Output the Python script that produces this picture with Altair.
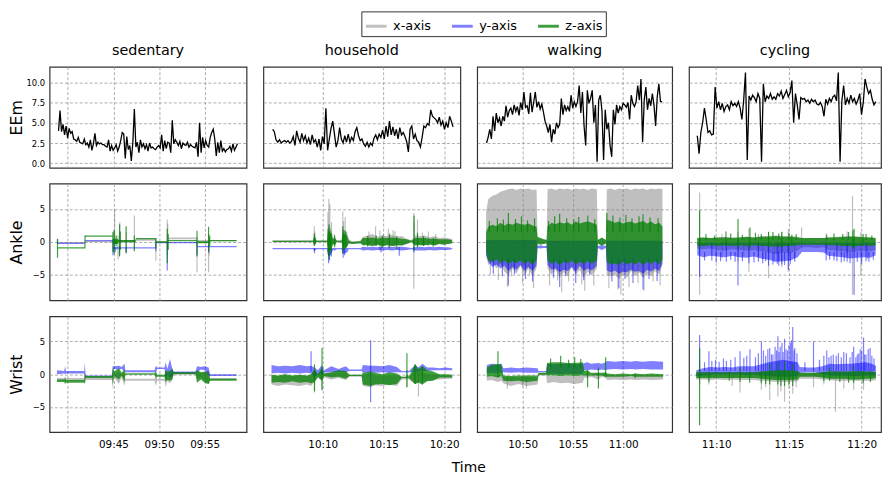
import altair as alt
import numpy as np
import pandas as pd

# ---------------------------------------------------------------- layout data
ACTIVITIES = ["sedentary", "household", "walking", "cycling"]
ROW_TITLES = ["EEm", "Ankle", "Wrist"]
AXES = ["x-axis", "y-axis", "z-axis"]
LEGEND_COLORS = ["#c0c0c0", "#8080ff", "#40a040"]
FILL_COLORS = ["#808080", "#0000ff", "#008000"]
FILL_OPACITY = [0.5, 0.5, 0.75]

# time windows in minutes since midnight
X_DOMAINS = [[578.0, 599.59], [605.11, 621.33], [645.47, 664.88], [668.13, 681.33]]
X_TICKS = [[580, 585, 590, 595], [610, 615, 620], [650, 655, 660], [670, 675, 680]]
X_UNLABELLED = [580]
SENSOR_T0 = [578.0, 605.1, 645.58, 668.1]
EEM_SPAN = [[578.98, 598.6], [605.87, 620.73], [646.4, 663.88], [668.7, 680.97]]

EEM_Y_DOMAIN = [-0.55, 11.9]
EEM_Y_TICKS = [0, 2.5, 5, 7.5, 10]
ACC_Y_DOMAIN = [-8.85, 8.85]
ACC_Y_TICKS = [-5, 0, 5]

COL_WIDTHS = [199, 199, 197, 194]
ROW_HEIGHTS = [102, 118, 117]

# ---------------------------------------------------------------- EEm series
EEM_SEDENTARY = [4.0, 6.5, 3.9, 4.8, 3.5, 4.6, 3.1, 4.3, 3.7, 3.9, 3.0, 2.9, 2.7, 3.2, 2.6, 2.5, 2.4, 3.0, 2.3, 2.5,
                 2.0, 2.9, 1.6, 2.4, 3.7, 2.2, 2.6, 2.4, 2.5, 2.3, 2.3, 2.1, 2.0, 2.9, 1.5, 2.2, 1.6, 1.9, 2.3, 1.5,
                 2.0, 2.8, 3.8, 3.6, 0.6, 3.3, 1.7, 2.2, 0.3, 2.6, 6.7, 2.0, 2.6, 1.3, 2.9, 2.0, 2.4, 1.8, 2.3, 1.5,
                 2.5, 1.9, 2.0, 1.8, 1.7, 2.0, 2.2, 1.9, 3.5, 1.5, 2.8, 1.8, 2.6, 2.5, 1.3, 5.3, 2.4, 2.9, 2.6, 2.2,
                 2.7, 1.8, 2.5, 2.3, 2.2, 2.6, 2.0, 2.3, 2.1, 2.0, 1.9, 2.6, 0.8, 5.0, 1.3, 3.2, 1.9, 2.8, 2.2, 2.0,
                 3.2, 3.8, 4.2, 3.0, 0.9, 2.6, 1.3, 2.8, 1.5, 1.8, 1.4, 1.7, 1.8, 2.1, 1.5, 2.4, 1.6, 2.0, 2.4]
EEM_HOUSEHOLD = [4.2, 3.9, 2.9, 2.6, 2.9, 2.5, 2.7, 2.8, 2.6, 2.8, 2.5, 2.7, 3.3, 2.2, 4.0, 3.1, 2.6, 3.7, 2.8, 3.4,
                 2.5, 3.1, 2.3, 3.5, 2.6, 2.9, 2.0, 3.0, 1.6, 3.3, 2.4, 6.8, 1.6, 3.0, 4.3, 5.2, 3.6, 2.0, 2.8, 4.4,
                 3.0, 2.5, 3.4, 2.6, 3.6, 2.6, 3.2, 2.8, 3.9, 4.4, 3.4, 2.8, 3.0, 2.4, 2.1, 2.6, 2.0, 2.5, 2.2, 3.1,
                 3.5, 2.9, 3.6, 3.2, 4.1, 3.0, 4.6, 3.3, 5.2, 3.5, 4.5, 3.4, 4.2, 3.0, 4.4, 3.5, 3.8, 3.3, 2.7, 1.4,
                 4.2, 4.6, 3.0, 3.6, 2.8, 2.6, 2.0, 3.2, 4.6, 4.4, 4.9, 4.7, 6.6, 5.8, 5.6, 5.4, 5.0, 5.7, 4.7, 5.2,
                 4.2, 5.0, 4.4, 5.8, 5.2, 4.5]
EEM_WALKING = [2.5, 3.2, 4.2, 3.0, 5.8, 4.0, 6.2, 5.0, 5.6, 4.6, 5.8, 5.2, 7.1, 5.7, 6.5, 6.8, 6.0, 7.2, 6.4, 7.0,
               5.9, 7.5, 6.6, 8.8, 6.9, 7.1, 6.1, 8.7, 6.3, 7.5, 8.8, 6.9, 7.6, 6.7, 7.3, 6.3, 5.2, 4.6, 3.8, 4.8,
               2.6, 4.2, 3.6, 5.0, 4.4, 4.8, 8.0, 6.0, 7.2, 6.5, 7.0, 6.4, 8.4, 6.8, 7.6, 7.0, 7.6, 9.6, 6.2, 8.8,
               4.6, 2.2, 9.0, 7.4, 8.0, 9.0, 5.0, 7.2, 0.2, 7.8, 8.4, 6.5, 0.4, 6.6, 4.2, 5.0, 2.2, 0.8, 6.6, 4.8,
               7.2, 6.2, 7.0, 6.6, 7.4, 7.2, 6.9, 7.5, 5.4, 8.4, 7.4, 7.0, 7.6, 9.6, 7.8, 10.4, 2.6, 7.8, 9.4, 6.6,
               8.0, 7.1, 8.6, 7.2, 4.6, 8.2, 9.8, 7.6, 7.6]
EEM_CYCLING = [3.4, 1.2, 3.8, 5.0, 6.8, 5.4, 3.8, 4.0, 3.5, 3.6, 9.4, 6.8, 7.6, 6.6, 7.4, 6.4, 7.0, 7.2, 6.6, 7.6,
               7.1, 7.4, 7.0, 7.6, 6.8, 5.4, 7.8, 11.2, 0.4, 8.3, 7.8, 8.4, 8.1, 7.6, 8.6, 8.0, 0.2, 9.8, 7.6, 8.3,
               8.0, 8.6, 7.9, 8.2, 7.9, 8.6, 8.3, 8.9, 8.0, 8.5, 9.0, 8.2, 8.7, 10.2, 5.0, 8.6, 7.2, 5.4, 8.1, 7.9,
               8.0, 7.6, 7.8, 7.4, 7.9, 7.6, 7.8, 7.3, 7.2, 7.5, 7.0, 5.8, 7.9, 7.3, 8.0, 7.6, 8.2, 8.4, 7.7, 11.2,
               0.2, 7.7, 9.6, 7.2, 8.0, 7.4, 8.4, 7.6, 8.0, 7.3, 7.8, 8.6, 6.0, 7.5, 10.4, 9.4, 8.6, 9.0, 7.9, 7.2,
               7.6]
EEM_SERIES = [EEM_SEDENTARY, EEM_HOUSEHOLD, EEM_WALKING, EEM_CYCLING]

# ---------------------------------------------------------------- accelerometer: noise bands (minutes from panel start, g)
ANKLE_SEDENTARY = dict(
    t=[0.87, 3.86, 3.88, 6.92, 6.95, 7.5, 7.55, 9.4, 9.47, 11.62, 11.7, 12.88, 12.95, 16.12, 16.2, 17.42, 17.5, 20.5],
    x_lo=[-0.2, -0.2, 0.0, 0.0, -0.3, -0.3, -0.1, -0.1, 0.2, 0.2, -0.1, -0.1, 0.4, 0.4, -0.1, -0.1, 0.1, 0.1],
    x_hi=[0.0, 0.0, 0.2, 0.2, 0.3, 0.3, 0.3, 0.3, 0.5, 0.5, 0.1, 0.1, 0.7, 0.7, 0.3, 0.3, 0.3, 0.3],
    y_lo=[-0.3, -0.3, 0.1, 0.1, -1.1, -1.1, -1.0, -1.0, -1.0, -1.0, -0.2, -0.2, -0.2, -0.2, -0.8, -0.8, -0.8, -0.8],
    y_hi=[-0.1, -0.1, 0.3, 0.3, -0.7, -0.7, -0.8, -0.8, -0.8, -0.8, 0.0, 0.0, 0.0, 0.0, -0.6, -0.6, -0.6, -0.6],
    z_lo=[-1.0, -1.0, 0.8, 0.8, -0.3, -0.3, 0.0, 0.0, 0.4, 0.4, -0.1, -0.1, 0.1, 0.1, -0.2, -0.2, 0.1, 0.1],
    z_hi=[-0.8, -0.8, 1.0, 1.0, 0.5, 0.5, 0.3, 0.3, 0.6, 0.6, 0.1, 0.1, 0.3, 0.3, 0.1, 0.1, 0.3, 0.3],
)
ANKLE_HOUSEHOLD = dict(
    t=[0.77, 4.1, 4.2, 4.4, 5.25, 5.35, 5.6, 5.75, 5.9, 6.05, 6.45, 6.55, 6.9, 7.05, 7.3, 8.0, 8.2, 8.6, 9.0, 9.4,
       9.8, 10.2, 10.6, 11.0, 11.4, 11.8, 12.2, 12.5, 12.9, 13.3, 13.7, 14.1, 14.5, 14.9, 15.2, 15.56],
    x_lo=[-0.05, -0.05, -0.4, -0.05, -0.05, -0.8, -0.6, -0.3, -0.5, -0.05, -0.05, -0.8, -0.6, -0.2, -0.3, -0.2, -0.5,
          -0.4, -0.6, -0.4, -0.7, -0.4, -0.6, -0.5, -0.6, -0.3, -0.05, -0.5, -0.4, -0.5, -0.3, -0.5, -0.3, -0.4, -0.3,
          -0.2],
    x_hi=[0.25, 0.25, 1.0, 0.25, 0.25, 2.5, 2.0, 0.6, 0.8, 0.25, 0.25, 2.0, 1.5, 0.4, 0.1, 0.2, 0.8, 1.0, 1.2, 0.8,
          1.0, 0.9, 1.1, 0.8, 0.9, 0.5, 0.25, 1.0, 0.9, 1.0, 0.7, 0.9, 0.6, 0.7, 0.6, 0.4],
    y_lo=[-1.1, -1.1, -1.4, -1.1, -1.1, -2.2, -1.8, -1.2, -1.3, -1.1, -1.1, -1.8, -1.6, -1.1, -1.1, -1.1, -1.3, -1.2,
          -1.3, -1.2, -1.3, -1.2, -1.3, -1.2, -1.3, -1.2, -1.1, -1.3, -1.3, -1.3, -1.2, -1.3, -1.2, -1.2, -1.2, -1.1],
    y_hi=[-0.9, -0.9, -0.9, -0.9, -0.9, -0.9, -0.9, -0.9, -0.9, -0.9, -0.9, -0.9, -0.9, -0.9, -0.9, -0.9, -0.7, -0.8,
          -0.7, -0.8, -0.7, -0.8, -0.7, -0.8, -0.7, -0.8, -0.9, -0.8, -0.7, -0.8, -0.7, -0.8, -0.7, -0.8, -0.8, -0.9],
    z_lo=[0.0, 0.0, -0.4, 0.0, 0.0, -1.5, -1.2, -0.3, -0.5, 0.0, 0.0, -1.0, -0.8, -0.2, -0.3, -0.2, -0.5, -0.5, -0.6,
          -0.4, -0.6, -0.5, -0.6, -0.5, -0.5, -0.3, 0.0, -0.5, -0.5, -0.5, -0.4, -0.5, -0.3, -0.4, -0.3, -0.2],
    z_hi=[0.2, 0.2, 0.8, 0.2, 0.2, 1.6, 1.2, 0.4, 0.6, 0.2, 0.2, 1.4, 1.0, 0.2, 0.0, 0.1, 0.6, 0.6, 0.7, 0.5, 0.7,
          0.6, 0.7, 0.6, 0.5, 0.4, 0.2, 0.6, 0.6, 0.6, 0.5, 0.5, 0.4, 0.4, 0.4, 0.3],
)
ANKLE_WALKING = dict(
    t=[0.78, 1.0, 1.4, 1.8, 2.2, 2.6, 3.0, 3.4, 3.8, 4.2, 4.6, 5.0, 5.4, 5.8, 5.9, 6.2, 6.5, 6.8, 6.9, 7.3, 7.7, 8.1,
       8.5, 8.9, 9.3, 9.7, 10.1, 10.5, 10.9, 11.3, 11.8, 11.9, 12.3, 12.7, 12.8, 13.2, 13.6, 14.0, 14.4, 14.8, 15.2,
       15.6, 16.0, 16.4, 16.8, 17.2, 17.6, 18.0, 18.33],
    x_lo=[-2.0, -3.5, -3.0, -4.0, -3.2, -4.5, -5.0, -4.0, -4.8, -3.6, -5.0, -4.0, -5.2, -4.0, -0.4, -0.3, -0.2, -0.3,
          -4.0, -5.0, -4.2, -5.4, -4.6, -5.2, -3.8, -5.0, -4.2, -5.4, -4.5, -5.0, -4.0, -0.3, -0.5, -0.3, -5.0, -5.2,
          -5.0, -5.6, -4.8, -5.4, -4.4, -5.2, -4.6, -5.5, -4.8, -5.2, -4.4, -5.0, -3.5],
    x_hi=[4.5, 6.5, 7.0, 7.2, 7.6, 7.8, 8.0, 8.1, 7.9, 8.1, 8.0, 8.1, 7.9, 8.0, 0.4, 0.5, 0.4, 0.3, 8.0, 8.1, 7.9, 8.1,
          8.0, 8.1, 7.9, 8.1, 8.0, 8.1, 7.9, 8.1, 8.0, 0.3, 0.6, 0.3, 8.0, 8.1, 7.9, 8.1, 8.0, 8.1, 7.9, 8.1, 8.0, 8.1,
          7.9, 8.1, 8.0, 8.1, 8.0],
    y_lo=[-2.0, -3.0, -3.8, -3.4, -4.0, -3.6, -4.4, -3.8, -4.2, -3.5, -4.3, -3.8, -4.4, -3.6, -0.9, -1.0, -0.9, -0.9,
          -3.5, -4.2, -4.0, -4.6, -4.2, -4.4, -3.8, -4.5, -3.6, -4.4, -4.0, -4.3, -3.6, -0.9, -1.2, -0.9, -4.3, -4.6,
          -4.3, -4.8, -4.5, -4.6, -4.2, -4.5, -4.4, -4.8, -4.2, -4.5, -4.0, -4.4, -3.2],
    y_hi=[0.3, 0.3, 0.3, 0.3, 0.3, 0.3, 0.3, 0.3, 0.3, 0.3, 0.3, 0.3, 0.3, 0.3, -0.6, -0.5, -0.6, -0.6, 0.2, 0.2, 0.2,
          0.2, 0.2, 0.2, 0.2, 0.2, 0.2, 0.2, 0.2, 0.2, 0.2, -0.6, -0.5, -0.6, 0.2, 0.2, 0.2, 0.2, 0.2, 0.2, 0.2, 0.2,
          0.2, 0.2, 0.2, 0.2, 0.2, 0.2, 0.2],
    z_lo=[-1.5, -2.8, -3.0, -2.6, -3.2, -2.8, -3.3, -2.9, -3.2, -2.8, -3.3, -2.9, -3.4, -2.8, -0.2, -0.4, -0.3, -0.2,
          -2.8, -3.3, -3.0, -3.5, -3.0, -3.2, -2.8, -3.4, -3.0, -3.3, -2.9, -3.3, -2.8, -0.2, -0.6, -0.2, -3.0, -3.4,
          -3.2, -3.5, -3.0, -3.4, -3.1, -3.4, -3.0, -3.5, -3.0, -3.3, -2.9, -3.4, -2.6],
    z_hi=[1.5, 2.3, 2.6, 2.4, 2.9, 2.5, 2.8, 2.6, 2.9, 2.7, 2.6, 2.8, 2.5, 2.3, 0.8, 0.6, 0.4, 0.3, 2.4, 2.9, 2.7, 3.0,
          2.8, 3.0, 2.6, 3.1, 2.8, 3.0, 3.1, 2.9, 2.6, 0.3, 0.7, 0.3, 3.4, 3.2, 2.9, 3.1, 2.8, 3.0, 3.1, 2.8, 3.0, 3.2,
          2.8, 3.1, 2.7, 2.9, 2.4],
)
ANKLE_CYCLING = dict(
    t=[0.6, 1.0, 1.5, 2.0, 2.5, 3.0, 3.5, 4.0, 4.5, 5.0, 5.5, 6.0, 6.5, 7.0, 7.5, 7.8, 8.3, 8.8, 9.3, 9.6, 10.1,
       10.6, 11.1, 11.6, 12.1, 12.5, 12.86],
    x_lo=[-1.0, -1.1, -1.0, -1.2, -1.3, -1.1, -1.2, -1.3, -1.2, -1.4, -1.6, -1.8, -1.6, -1.7, -1.3, -0.8, -0.8, -0.9,
          -0.8, -1.2, -1.3, -1.4, -1.5, -1.4, -1.3, -1.4, -1.2],
    x_hi=[0.6, 0.7, 0.6, 0.7, 0.8, 0.7, 0.7, 0.8, 0.7, 0.9, 0.9, 1.0, 0.9, 0.9, 0.8, 0.6, 0.6, 0.6, 0.6, 0.7, 0.8,
          0.8, 0.9, 0.8, 0.8, 0.7, 0.6],
    y_lo=[-2.0, -2.3, -2.1, -2.2, -2.3, -2.1, -2.3, -2.4, -2.2, -2.5, -2.7, -3.0, -2.9, -2.8, -2.3, -1.5, -1.5, -1.5,
          -1.6, -2.1, -2.2, -2.3, -2.5, -2.4, -2.3, -2.4, -2.0],
    y_hi=[-0.1, -0.2, -0.1, -0.2, -0.1, -0.2, -0.1, -0.2, -0.1, -0.2, -0.1, -0.2, -0.1, -0.2, -0.1, -0.2, -0.1, -0.2,
          -0.1, -0.2, -0.1, -0.2, -0.1, -0.2, -0.1, -0.2, -0.1],
    z_lo=[-0.5, -0.6, -0.5, -0.6, -0.5, -0.6, -0.5, -0.6, -0.5, -0.6, -0.6, -0.7, -0.6, -0.6, -0.5, -0.4, -0.4, -0.4,
          -0.4, -0.5, -0.5, -0.6, -0.6, -0.6, -0.5, -0.6, -0.5],
    z_hi=[0.6, 0.7, 0.6, 0.7, 0.7, 0.6, 0.7, 0.8, 0.7, 0.8, 0.8, 0.9, 0.8, 0.8, 0.7, 0.6, 0.6, 0.6, 0.6, 0.7, 0.7,
          0.8, 0.8, 0.8, 0.7, 0.7, 0.6],
)
WRIST_SEDENTARY = dict(
    t=[0.81, 1.6, 1.7, 1.8, 3.8, 3.87, 3.95, 6.85, 6.94, 7.05, 7.6, 7.9, 8.21, 8.3, 11.5, 11.65, 11.8, 12.6, 12.73,
       12.9, 13.2, 13.45, 13.6, 16.0, 16.16, 16.6, 17.0, 17.43, 17.6, 20.5],
    x_lo=[-1.0, -1.0, -1.2, -1.0, -1.0, -1.4, -0.9, -0.9, -2.5, -0.5, -1.5, -0.5, -1.8, -1.0, -1.0, -1.8, -1.0, -1.0,
          -2.0, -1.0, -1.4, -0.8, 0.0, 0.0, -0.8, -0.5, -1.0, -1.6, -0.9, -0.9],
    x_hi=[-0.6, -0.6, -0.4, -0.6, -0.6, 0.2, -0.5, -0.5, 0.8, -0.2, 0.5, -0.2, 0.4, -0.7, -0.7, -0.2, -0.7, -0.7, 0.4,
          -0.4, -0.3, 0.3, 0.3, 0.3, 0.4, 0.2, 0.3, 0.6, -0.6, -0.6],
    y_lo=[0.0, 0.1, 0.0, 0.1, 0.1, -0.6, -0.4, -0.4, -0.4, 0.8, 0.7, 0.8, 0.5, 0.3, 0.3, 0.2, 0.8, 0.8, -0.8, -0.2,
          -0.5, -0.4, 0.1, 0.1, 0.3, 0.7, 0.6, -0.2, -0.3, -0.3],
    y_hi=[0.6, 0.5, 1.2, 0.5, 0.5, 1.8, -0.2, -0.2, 1.3, 1.2, 1.3, 1.1, 1.6, 0.6, 0.6, 1.3, 1.0, 1.0, 1.8, 0.8, 2.3,
          0.8, 0.4, 0.4, 1.2, 1.1, 1.2, 1.0, 0.0, 0.0],
    z_lo=[-1.2, -1.2, -1.5, -1.3, -1.3, -1.5, -0.6, -0.6, -1.6, -0.3, -0.8, -0.2, -1.2, -0.1, -0.1, -0.6, -0.4, -0.4,
          -1.2, -0.9, -1.0, -0.8, 0.0, 0.0, -1.3, -0.8, -1.3, -1.5, -1.0, -1.0],
    z_hi=[-0.8, -0.8, -0.6, -0.9, -0.9, 0.2, -0.3, -0.3, 1.2, 0.4, 0.9, 0.2, 0.8, 0.15, 0.15, 0.4, -0.1, -0.1, 0.6,
          0.4, 0.5, 0.9, 0.3, 0.3, 0.6, 0.3, 0.4, 0.2, -0.7, -0.7],
)
WRIST_HOUSEHOLD = dict(
    t=[0.68, 1.2, 1.8, 2.4, 3.0, 3.6, 3.94, 4.22, 4.5, 4.84, 5.0, 5.6, 6.2, 6.8, 7.1, 8.1, 8.2, 8.84, 9.2, 9.8, 10.4,
       11.0, 11.4, 11.75, 11.83, 12.0, 12.5, 12.78, 13.1, 13.5, 14.0, 14.5, 15.0, 15.56],
    x_lo=[-1.6, -1.8, -1.6, -1.7, -1.8, -1.6, -1.8, -1.2, -0.6, -1.0, -0.5, -0.8, -0.6, -0.9, -0.4, -0.4, -1.8, -2.0,
          -1.7, -1.8, -1.6, -1.8, -0.8, -0.8, -0.8, -0.8, -1.5, -1.2, -1.2, -1.0, -0.8, -0.8, -0.7, -0.7],
    x_hi=[-0.2, -0.3, -0.2, -0.3, -0.2, -0.3, -0.2, 0.5, 0.0, 0.5, 0.1, 0.2, 0.2, 0.3, -0.1, -0.1, -0.2, 0.3, -0.2,
          -0.3, -0.2, -0.2, -0.4, -0.4, -0.4, -0.4, 0.5, 0.4, 0.3, 0.0, -0.1, -0.2, -0.2, -0.2],
    y_lo=[0.1, 0.2, 0.1, 0.2, 0.1, 0.2, 0.1, -0.4, 0.0, 0.0, 0.2, 0.3, 0.3, 0.3, 0.5, 0.5, 0.2, 0.3, 0.2, 0.3, 0.2,
          0.3, 0.3, 0.3, 0.2, 0.3, 0.3, 0.4, 0.5, 0.5, 0.6, 0.6, 0.6, 0.6],
    y_hi=[1.4, 1.2, 1.3, 1.2, 1.4, 1.2, 1.3, 1.0, 0.6, 1.4, 0.6, 1.2, 0.8, 1.2, 0.7, 0.7, 1.4, 1.3, 1.3, 1.2, 1.4, 1.1,
          0.5, 0.5, 0.6, 0.5, 1.4, 1.0, 1.6, 1.0, 1.0, 0.9, 1.0, 0.9],
    z_lo=[-1.3, -1.2, -1.3, -1.1, -1.3, -1.2, -1.4, -1.2, -0.4, -1.0, -0.3, -0.5, -0.4, -0.7, -0.3, -0.3, -1.6, -1.8,
          -1.6, -1.5, -1.7, -1.5, -0.6, -0.6, -0.6, -0.6, -1.5, -1.3, -1.6, -1.1, -1.0, -0.5, -0.5, -0.5],
    z_hi=[-0.1, -0.2, 0.0, -0.2, -0.1, -0.2, 0.0, 0.8, 0.0, 1.0, 0.1, 0.3, 0.6, 0.5, -0.1, -0.1, 0.2, 0.4, 0.2, 0.0,
          0.3, 0.1, -0.4, -0.4, 0.0, -0.4, 1.5, 0.8, 1.2, 0.6, 0.4, 0.0, 0.0, -0.1],
)
WRIST_WALKING = dict(
    t=[0.85, 1.3, 1.96, 2.3, 2.5, 3.2, 4.0, 4.8, 5.9, 6.0, 6.75, 6.85, 7.5, 8.2, 8.9, 9.6, 10.4, 10.56, 10.88, 11.2,
       11.96, 12.3, 12.68, 12.84, 13.6, 14.4, 15.2, 15.62, 16.4, 17.2, 18.4],
    x_lo=[-1.0, -0.9, -1.2, -1.0, -1.4, -1.8, -1.5, -1.8, -1.6, -0.2, -0.2, -1.4, -1.2, -1.4, -1.3, -1.5, -1.3, -0.5,
          -0.6, -0.4, -0.8, -0.4, -0.6, -0.9, -0.8, -0.9, -0.8, -0.9, -0.8, -0.9, -0.8],
    x_hi=[-0.3, -0.3, -0.2, -0.3, -0.4, -0.4, -0.5, -0.4, -0.5, 0.2, 0.2, -0.3, -0.3, -0.3, -0.3, -0.3, -0.3, -0.1, 0.0,
          -0.1, 0.2, -0.1, 0.0, -0.2, -0.2, -0.2, -0.2, -0.2, -0.2, -0.2, -0.2],
    y_lo=[0.1, 0.2, 0.1, 0.2, 0.3, 0.2, 0.3, 0.2, 0.2, 0.3, 0.3, 0.0, 0.1, 0.0, 0.1, 0.0, 0.1, 0.6, 0.6, 0.7, 0.6, 0.7,
          0.6, 0.7, 0.8, 0.7, 0.8, 0.7, 0.8, 0.7, 0.7],
    y_hi=[1.4, 1.6, 1.5, 1.6, 0.9, 1.0, 0.9, 1.0, 0.9, 0.5, 0.5, 1.6, 1.5, 1.6, 1.6, 1.5, 1.6, 1.7, 1.8, 1.6, 1.7, 1.6,
          1.8, 2.0, 1.9, 2.0, 1.9, 2.0, 1.9, 2.0, 1.9],
    z_lo=[-0.4, -0.3, -0.5, -0.3, -1.0, -1.1, -1.0, -1.2, -1.0, -0.1, -0.1, -0.2, -0.2, -0.3, -0.2, -0.3, -0.2, -0.2,
          -0.2, -0.2, -0.2, -0.2, -0.4, -0.4, -0.4, -0.4, -0.3, -0.4, -0.4, -0.4, -0.4],
    z_hi=[1.0, 1.4, 1.5, 1.5, -0.2, -0.3, -0.2, -0.2, -0.2, 0.2, 0.2, 1.7, 1.8, 1.8, 1.7, 1.7, 1.8, 0.5, 0.6, 0.2, 0.2,
          0.2, 0.3, 0.1, 0.0, 0.1, 0.0, 0.1, 0.0, 0.1, 0.0],
)
WRIST_CYCLING = dict(
    t=[0.53, 1.0, 1.5, 2.0, 2.5, 3.0, 3.5, 4.0, 4.5, 5.0, 5.5, 6.0, 6.5, 7.0, 7.5, 7.65, 8.2, 8.7, 9.2, 9.7, 10.2,
       10.7, 11.2, 11.7, 12.2, 12.6, 12.88],
    x_lo=[-0.8, -0.8, -0.9, -0.8, -0.9, -0.8, -0.9, -0.9, -0.9, -1.0, -1.1, -1.2, -1.2, -1.2, -1.1, -0.7, -0.7, -0.7,
          -0.8, -0.9, -1.0, -1.0, -1.0, -1.0, -1.0, -1.0, -0.9],
    x_hi=[0.2, 0.3, 0.3, 0.3, 0.3, 0.3, 0.3, 0.3, 0.3, 0.4, 0.5, 0.5, 0.5, 0.5, 0.4, 0.2, 0.2, 0.2, 0.3, 0.4, 0.4,
          0.4, 0.4, 0.4, 0.4, 0.4, 0.3],
    y_lo=[-0.3, -0.2, -0.1, 0.0, 0.0, 0.0, 0.0, -0.1, 0.0, -0.2, -0.3, -0.4, -0.4, -0.4, -0.3, 0.2, 0.3, 0.3, 0.0,
          -0.2, -0.2, -0.2, -0.3, -0.3, -0.2, -0.2, -0.1],
    y_hi=[0.6, 0.9, 1.1, 1.0, 1.1, 1.0, 1.2, 1.2, 1.2, 1.5, 1.8, 2.0, 2.2, 2.0, 1.8, 1.1, 1.0, 1.0, 1.2, 1.6, 1.5,
          1.6, 1.6, 1.7, 1.8, 1.6, 1.3],
    z_lo=[-0.6, -0.6, -0.6, -0.6, -0.6, -0.6, -0.6, -0.6, -0.6, -0.7, -0.8, -0.9, -0.9, -0.9, -0.8, -0.4, -0.4, -0.4,
          -0.5, -0.7, -0.7, -0.7, -0.8, -0.8, -0.7, -0.7, -0.6],
    z_hi=[0.3, 0.3, 0.3, 0.3, 0.3, 0.3, 0.3, 0.3, 0.3, 0.4, 0.5, 0.6, 0.6, 0.6, 0.5, 0.2, 0.2, 0.2, 0.3, 0.4, 0.4,
          0.4, 0.4, 0.5, 0.4, 0.4, 0.3],
)

# ---------------------------------------------------------------- accelerometer: single spikes (minutes, g)
SPIKES_ANKLE_SEDENTARY = dict(
    x_t=[7.0, 7.13, 7.5, 7.7, 8.4, 9.3, 11.65, 12.9, 12.95, 16.16, 17.43, 17.5],
    x_lo=[-1.5, -0.8, -2.6, -1.2, -1.8, -1.2, -2.8, -2.0, -1.0, -4.6, -4.6, -2.0],
    x_hi=[1.8, 5.0, 1.0, 3.0, 1.5, 4.0, 0.6, 3.4, 2.8, 0.8, 1.3, 0.8],
    y_t=[0.87, 6.95, 7.2, 7.67, 8.4, 11.65, 12.9, 16.16, 17.43],
    y_lo=[-0.3, -2.0, -1.5, -2.0, -1.6, -1.4, -4.3, -2.2, -1.6],
    y_hi=[0.5, 0.4, -0.8, -0.6, -0.7, -0.1, 0.0, 0.0, -0.5],
    z_t=[0.87, 3.88, 6.95, 7.1, 7.3, 7.67, 7.75, 8.39, 9.29, 11.65, 12.9, 13.0, 16.16, 17.43, 17.55],
    z_lo=[-2.4, -1.0, -1.5, -1.8, -0.6, -2.2, -1.2, -1.6, -1.4, -1.0, -3.2, -1.2, -2.0, -1.4, -0.6],
    z_hi=[0.4, 1.0, 1.5, 1.8, 1.0, 2.7, 1.6, 2.4, 1.0, 0.6, 2.0, 1.2, 1.7, 2.3, 1.0],
)
SPIKES_ANKLE_HOUSEHOLD = dict(
    x_t=[4.2, 4.25, 5.33, 5.4, 5.48, 5.62, 5.85, 6.55, 6.62, 6.75, 8.7, 9.25, 9.6, 9.9, 10.3, 10.7, 10.85, 12.4, 12.42,
         12.7, 13.1, 13.6, 14.2],
    x_lo=[-0.5, -0.3, -1.5, -2.0, -1.2, -0.8, -0.6, -1.2, -0.9, -1.0, -0.5, -0.6, -1.2, -0.5, -0.9, -0.6, -0.8, -7.1,
          -1.0, -0.8, -0.5, -0.6, -0.6],
    x_hi=[2.4, 1.6, 4.5, 6.5, 5.8, 3.0, 1.2, 4.6, 3.2, 3.8, 1.6, 2.4, 1.8, 1.3, 2.0, 1.8, 1.6, 4.4, 3.0, 3.4, 1.4, 1.6,
          1.2],
    y_t=[4.22, 5.38, 5.45, 5.6, 6.58, 6.7, 9.7, 11.2, 12.4],
    y_lo=[-1.7, -3.2, -2.8, -2.2, -2.4, -2.0, -1.6, -2.1, -1.6],
    y_hi=[-0.9, -0.9, -0.9, -0.9, -0.9, -0.9, -0.7, -0.7, -0.7],
    z_t=[4.2, 4.26, 5.35, 5.42, 5.5, 5.58, 5.88, 6.55, 6.65, 6.8, 8.6, 9.3, 9.8, 10.4, 11.0, 12.42, 12.7, 13.2, 14.0],
    z_lo=[-0.6, -0.4, -1.8, -2.6, -2.0, -1.4, -0.8, -1.7, -1.2, -1.0, -0.7, -0.6, -0.9, -1.0, -1.1, -1.3, -0.8, -0.6,
          -0.7],
    z_hi=[1.3, 0.8, 2.0, 2.7, 1.7, 1.4, 1.0, 2.4, 1.8, 1.6, 0.9, 1.0, 1.0, 1.3, 0.9, 4.0, 1.4, 0.9, 0.6],
)
SPIKES_ANKLE_WALKING = dict(
    x_t=[1.2, 2.0, 2.9, 3.3, 4.4, 5.1, 5.5, 7.1, 7.9, 8.3, 9.0, 10.3, 10.6, 11.5, 13.0, 13.9, 14.2, 15.0, 15.9, 16.5,
         17.4, 18.1],
    x_lo=[-5.0, -5.8, -6.8, -5.2, -6.2, -5.0, -7.0, -6.6, -5.8, -7.6, -6.0, -6.4, -7.4, -6.6, -7.0, -7.2, -8.0, -6.8,
          -6.2, -7.4, -6.0, -6.6],
    x_hi=[-3.0, -3.0, -3.0, -3.0, -3.0, -3.0, -3.0, -3.0, -3.0, -3.0, -3.0, -3.0, -3.0, -3.0, -3.0, -3.0, -3.0, -3.0,
          -3.0, -3.0, -3.0, -3.0],
    y_t=[1.5, 2.4, 3.0, 3.6, 4.7, 5.4, 7.5, 8.1, 8.7, 9.7, 10.5, 11.1, 13.3, 14.0, 14.6, 15.4, 16.4, 17.0, 17.8],
    y_lo=[-4.8, -5.2, -6.6, -4.9, -5.6, -6.0, -5.4, -6.8, -5.2, -6.2, -5.8, -5.0, -6.0, -7.0, -5.6, -6.2, -7.2, -5.6,
          -5.9],
    y_hi=[-2.5, -2.5, -2.5, -2.5, -2.5, -2.5, -2.5, -2.5, -2.5, -2.5, -2.5, -2.5, -2.5, -2.5, -2.5, -2.5, -2.5, -2.5,
          -2.5],
    z_t=[1.1, 1.9, 2.5, 3.0, 3.7, 4.3, 4.9, 5.6, 7.0, 7.6, 8.1, 8.8, 9.5, 10.0, 10.9, 11.6, 12.8, 13.4, 14.1, 14.7,
         15.3, 16.0, 16.4, 17.1, 17.9],
    z_lo=[1.5, 1.5, 1.5, 1.5, 1.5, 1.5, 1.5, 1.5, 1.5, 1.5, 1.5, 1.5, 1.5, 1.5, 1.5, 1.5, 1.5, 1.5, 1.5, 1.5, 1.5,
          1.5, 1.5, 1.5, 1.5],
    z_hi=[3.2, 3.6, 3.4, 4.4, 3.5, 3.9, 3.3, 3.6, 3.2, 3.9, 4.3, 3.6, 3.4, 3.8, 4.0, 3.5, 4.4, 4.0, 3.7, 4.1, 3.6,
          3.9, 4.2, 3.7, 3.6],
)
SPIKES_ANKLE_CYCLING = dict(
    x_t=[0.76, 2.3, 3.4, 4.15, 4.8, 5.5, 6.41, 6.86, 7.77, 9.46, 10.9, 11.27, 11.84,
         1.9, 3.8, 5.1, 5.9, 6.2, 7.3, 10.5, 12.3],
    x_lo=[-8.0, -2.5, -3.0, -4.5, -2.2, -5.5, -3.8, -4.5, -1.0, -1.6, -2.2, -8.0, -5.0,
          -2.0, -2.2, -2.6, -3.0, -2.8, -2.4, -2.0, -2.6],
    x_hi=[7.5, 1.2, 1.5, 2.0, 1.2, 1.6, 1.6, 2.0, 2.2, 1.3, 1.6, 7.0, 1.5,
          0.0, 0.0, 0.0, 0.0, 0.0, 0.0, 0.0, 0.0],
    y_t=[0.76, 1.6, 2.6, 3.4, 4.15, 4.8, 5.5, 6.1, 6.41, 6.86, 9.46, 10.2, 10.9, 11.38, 12.2,
         1.1, 1.9, 2.2, 2.9, 3.2, 3.7, 4.5, 5.1, 5.3, 5.8, 6.2, 6.6, 7.0, 7.3, 9.7, 10.0, 10.5, 10.7, 11.1, 11.6,
         11.9, 12.4, 12.7],
    y_lo=[-5.3, -2.8, -3.0, -6.6, -3.2, -3.0, -3.6, -3.3, -3.4, -4.2, -2.8, -2.9, -3.0, -8.0, -2.9,
          -2.8, -3.1, -2.9, -2.7, -3.0, -2.9, -3.1, -3.2, -2.9, -3.4, -3.6, -3.5, -3.3, -3.0, -2.7, -2.8, -3.1, -2.9,
          -3.2, -3.0, -3.3, -3.0, -2.7],
    y_hi=[0.5, -0.1, 0.2, 0.3, -0.1, -0.1, -0.1, 0.1, -0.1, -0.1, -0.1, -0.1, -0.1, -0.1, -0.1,
          -1.5, -1.5, -1.5, -1.5, -1.5, -1.5, -1.5, -1.5, -1.5, -1.5, -1.5, -1.5, -1.5, -1.5, -1.5, -1.5, -1.5, -1.5,
          -1.5, -1.5, -1.5, -1.5, -1.5],
    z_t=[0.76, 2.57, 3.4, 4.22, 5.5, 6.41, 7.1, 11.3, 11.38, 12.0,
         1.2, 1.8, 2.9, 3.7, 4.6, 5.0, 5.8, 6.2, 6.9, 7.4, 9.5, 10.0, 10.6, 11.0, 12.2, 12.6],
    z_lo=[-1.2, -0.6, -1.0, -1.0, -0.8, -0.9, -0.6, -1.0, -0.9, -0.6,
          0.3, 0.3, 0.3, 0.3, 0.3, 0.3, 0.3, 0.3, 0.3, 0.3, 0.3, 0.3, 0.3, 0.3, 0.3, 0.3],
    z_hi=[4.8, 1.6, 3.5, 2.2, 1.5, 1.5, 1.1, 1.8, 2.0, 1.2,
          1.2, 1.0, 1.3, 1.1, 1.4, 1.2, 1.5, 1.3, 1.4, 1.2, 1.1, 1.3, 1.2, 1.5, 1.2, 1.0],
)
SPIKES_WRIST_SEDENTARY = dict(x_t=[], x_lo=[], x_hi=[], y_t=[], y_lo=[], y_hi=[], z_t=[], z_lo=[], z_hi=[])
SPIKES_WRIST_HOUSEHOLD = dict(
    x_t=[4.22, 4.84, 11.83, 12.78],
    x_lo=[-2.8, -2.5, -2.0, -3.4],
    x_hi=[1.0, 1.2, 0.5, 0.4],
    y_t=[3.94, 8.84],
    y_lo=[0.4, -4.3],
    y_hi=[3.5, 5.2],
    z_t=[4.22, 4.84, 11.83, 12.5, 13.1],
    z_lo=[-2.6, -2.4, -2.0, -1.5, -1.6],
    z_hi=[1.5, 4.0, 3.2, 1.5, 1.2],
)
SPIKES_WRIST_WALKING = dict(
    x_t=[2.9, 4.4, 4.8],
    x_lo=[-2.2, -2.0, -2.2],
    x_hi=[-0.4, -0.4, -0.4],
    y_t=[],
    y_lo=[],
    y_hi=[],
    z_t=[1.96, 7.2, 8.2, 9.0, 9.6, 10.2, 10.88, 11.96, 12.68, 15.62],
    z_lo=[-0.5, 1.0, 1.0, 1.0, 1.0, 1.0, -2.0, -2.2, -0.4, -0.6],
    z_hi=[3.5, 2.4, 2.8, 2.2, 2.6, 2.3, 0.6, 1.0, 2.6, 0.1],
)
SPIKES_WRIST_CYCLING = dict(
    x_t=[0.76, 3.54, 5.58, 6.14, 6.6, 7.16, 8.59, 10.1, 11.35,
         1.4, 3.0, 5.0, 5.3, 6.35, 6.9, 7.4, 9.3, 10.67, 12.03],
    x_lo=[-1.5, -2.8, -4.0, -3.4, -4.2, -3.0, -2.0, -5.8, -2.4,
          -1.6, -1.8, -2.4, -2.0, -2.6, -2.2, -2.0, -1.6, -2.2, -2.4],
    x_hi=[2.0, 0.5, 0.5, 0.5, 0.5, 0.5, 0.5, 0.5, 0.5,
          0.0, 0.0, 0.0, 0.0, 0.0, 0.0, 0.0, 0.0, 0.0, 0.0],
    y_t=[0.76, 1.4, 1.85, 2.6, 3.54, 4.22, 5.01, 5.3, 5.58, 5.8, 6.05, 6.14, 6.3, 6.5, 6.6, 6.8, 7.0, 7.16, 7.3,
         8.59, 9.5, 9.8, 10.3, 10.67, 11.1, 11.35, 11.6, 11.8, 12.03, 12.2, 12.48,
         1.1, 1.6, 2.1, 2.4, 2.9, 3.2, 3.8, 4.0, 4.6, 4.8, 5.15, 5.45, 5.7, 5.95, 6.22, 6.42, 6.7, 6.9, 7.08, 7.25,
         7.45, 8.0, 9.0, 9.3, 9.65, 9.95, 10.15, 10.5, 10.85, 11.25, 11.5, 11.7, 11.9, 12.1, 12.35, 12.6, 12.75],
    y_lo=[-0.4, 0.5, 0.5, 0.5, 0.5, 0.5, 0.5, 0.5, 0.5, 0.5, 0.5, 0.5, 0.5, 0.5, 0.5, 0.5, 0.5, 0.5, 0.5, 0.5, 0.5,
          0.5, 0.5, 0.5, 0.5, 0.5, 0.5, 0.5, 0.5, 0.5, 0.5,
          0.5, 0.5, 0.5, 0.5, 0.5, 0.5, 0.5, 0.5, 0.5, 0.5, 0.5, 0.5, 0.5, 0.5, 0.5, 0.5, 0.5, 0.5, 0.5, 0.5, 0.5,
          0.5, 0.5, 0.5, 0.5, 0.5, 0.5, 0.5, 0.5, 0.5, 0.5, 0.5, 0.5, 0.5, 0.5, 0.5, 0.5],
    y_hi=[6.0, 3.5, 2.2, 2.0, 3.5, 3.8, 5.0, 2.8, 4.0, 3.0, 3.6, 5.8, 4.2, 3.4, 5.4, 3.6, 4.8, 7.2, 4.0, 5.0, 3.6,
          2.8, 3.2, 3.4, 2.6, 4.2, 3.0, 3.8, 5.6, 3.0, 4.0,
          1.8, 2.0, 1.9, 2.4, 2.2, 2.6, 2.5, 2.8, 2.6, 3.2, 3.6, 3.8, 3.0, 4.2, 3.4, 4.8, 3.8, 4.4, 5.2, 3.6, 3.2,
          1.8, 2.2, 2.8, 2.6, 3.0, 2.8, 2.6, 3.2, 3.4, 2.6, 3.2, 3.6, 3.0, 3.8, 2.8, 2.4],
    z_t=[0.76, 3.54, 5.58, 6.14, 6.6, 7.16, 9.7, 11.35,
         1.4, 2.8, 4.2, 5.0, 5.3, 6.35, 6.9, 9.3, 10.4, 11.0, 12.0, 12.5],
    z_lo=[-7.8, -1.2, -1.6, -1.6, -1.8, -1.8, -1.0, -1.3,
          -1.2, -1.0, -1.3, -1.4, -1.5, -1.8, -1.6, -1.1, -1.2, -1.3, -1.4, -1.2],
    z_hi=[4.0, 1.0, 1.6, 1.8, 2.0, 1.6, 1.0, 1.2,
          0.4, 0.4, 0.4, 0.4, 0.4, 0.4, 0.4, 0.4, 0.4, 0.4, 0.4, 0.4],
)

SENSOR_PANELS = [
    [ANKLE_SEDENTARY, ANKLE_HOUSEHOLD, ANKLE_WALKING, ANKLE_CYCLING],
    [WRIST_SEDENTARY, WRIST_HOUSEHOLD, WRIST_WALKING, WRIST_CYCLING],
]
SPIKE_PANELS = [
    [SPIKES_ANKLE_SEDENTARY, SPIKES_ANKLE_HOUSEHOLD, SPIKES_ANKLE_WALKING, SPIKES_ANKLE_CYCLING],
    [SPIKES_WRIST_SEDENTARY, SPIKES_WRIST_HOUSEHOLD, SPIKES_WRIST_WALKING, SPIKES_WRIST_CYCLING],
]

FONT = "DejaVu Sans"
LEGEND = alt.Legend(
    orient="none", legendX=315, legendY=-56, direction="horizontal", title=None,
    symbolType="stroke", symbolSize=441, symbolStrokeWidth=3, symbolOpacity=1,
    labelFontSize=13, labelFont=FONT, labelColor="black", labelOffset=5,
    columnPadding=14, padding=3, strokeColor="#333333", fillColor="white", cornerRadius=0,
)


def x_channel(c, show_labels):
    hide = " || ".join("datum.value == %s" % v for v in X_UNLABELLED)
    expr = "(" + hide + ") ? '' : timeFormat(datetime(2020, 0, 1, 0, datum.value, 0), '%H:%M')"
    return alt.X(
        "t:Q",
        scale=alt.Scale(domain=X_DOMAINS[c], nice=False, zero=False),
        axis=alt.Axis(values=X_TICKS[c], grid=True, ticks=False, domain=False, labels=show_labels,
                      title=None, labelExpr=expr, labelFontSize=10.5, labelPadding=8,
                      labelFlush=False, labelOverlap=False, labelColor="black"),
    )


def y_channel(field, r, c):
    dom = EEM_Y_DOMAIN if r == 0 else ACC_Y_DOMAIN
    ticks = EEM_Y_TICKS if r == 0 else ACC_Y_TICKS
    kw = dict(values=ticks, grid=True, ticks=False, domain=False, labels=(c == 0),
              labelFontSize=8.5, labelPadding=5, labelColor="black")
    if r == 0:
        kw["format"] = ".1f"
    if c == 0:
        kw.update(title=ROW_TITLES[r], titleFontSize=16, titleFontWeight="normal", titleColor="black",
                  titleX=-33, titleBaseline="middle", titleAngle=270)
    else:
        kw["title"] = None
    return alt.Y(field, scale=alt.Scale(domain=dom, nice=False, zero=False), axis=alt.Axis(**kw))


def eem_panel(c):
    vals = EEM_SERIES[c]
    t0, t1 = EEM_SPAN[c]
    df = pd.DataFrame({"t": np.linspace(t0, t1, len(vals)), "v": vals})
    return alt.Chart(df).mark_line(color="black", strokeWidth=1.3, clip=True).encode(
        x=x_channel(c, False), y=y_channel("v:Q", 0, c)
    ).properties(
        width=COL_WIDTHS[c], height=ROW_HEIGHTS[0],
        title=alt.TitleParams(ACTIVITIES[c], fontSize=14.5, fontWeight="normal", anchor="middle",
                              frame="group", offset=9, dy=12, baseline="alphabetic", color="black", font=FONT),
    )


def band_frame(panel, t0):
    frames = []
    for name, key in zip(AXES, ["x", "y", "z"]):
        lo, hi = panel[key + "_lo"], panel[key + "_hi"]
        assert len(lo) == len(panel["t"]) == len(hi), (name, len(panel["t"]), len(lo), len(hi))
        frames.append(pd.DataFrame({"t": [t0 + v for v in panel["t"]], "lo": lo, "hi": hi, "axis": name}))
    return pd.concat(frames, ignore_index=True)


def spike_frame(spikes, t0):
    frames = []
    for name, key in zip(AXES, ["x", "y", "z"]):
        ts, lo, hi = spikes[key + "_t"], spikes[key + "_lo"], spikes[key + "_hi"]
        assert len(ts) == len(lo) == len(hi), (name, len(ts), len(lo), len(hi))
        frames.append(pd.DataFrame({"t": [t0 + v for v in ts], "lo": lo, "hi": hi, "axis": name}))
    return pd.concat(frames, ignore_index=True)


def sensor_panel(r, c, with_legend):
    bands = band_frame(SENSOR_PANELS[r - 1][c], SENSOR_T0[c])
    spikes = spike_frame(SPIKE_PANELS[r - 1][c], SENSOR_T0[c])
    xe = x_channel(c, r == 2)
    ye = y_channel("lo:Q", r, c)
    layers = []
    if with_legend:
        dummy = pd.DataFrame({"t": [None, None, None], "lo": [None, None, None], "axis": AXES})
        layers.append(alt.Chart(dummy).mark_line().encode(
            x=xe, y=ye,
            color=alt.Color("axis:N", scale=alt.Scale(domain=AXES, range=LEGEND_COLORS), legend=LEGEND),
        ))
    for i, name in enumerate(AXES):
        layers.append(alt.Chart(bands).transform_filter(alt.datum.axis == name).mark_area(
            color=FILL_COLORS[i], opacity=FILL_OPACITY[i], clip=True, interpolate="linear"
        ).encode(x=xe, y=ye, y2="hi:Q"))
        if (spikes["axis"] == name).any():
            layers.append(alt.Chart(spikes).transform_filter(alt.datum.axis == name).mark_rule(
                color=FILL_COLORS[i], opacity=FILL_OPACITY[i], strokeWidth=1.2, clip=True
            ).encode(x=xe, y=ye, y2="hi:Q"))
    return alt.layer(*layers).properties(width=COL_WIDTHS[c], height=ROW_HEIGHTS[r])


cells = [eem_panel(c) for c in range(4)]
for r in (1, 2):
    for c in range(4):
        cells.append(sensor_panel(r, c, r == 1 and c == 0))

chart = alt.concat(
    *cells, columns=4, spacing={"row": 16, "column": 17}, bounds="flush", align="each"
).resolve_scale(
    x="independent", y="independent", color="shared"
).properties(
    title=alt.TitleParams("Time", orient="bottom", anchor="middle", frame="bounds", fontSize=14,
                          fontWeight="normal", offset=10, dx=24, color="black", font=FONT),
    padding={"left": 0, "top": 0, "right": 0, "bottom": 0},
).configure(
    font=FONT
).configure_view(
    stroke="#333333", strokeWidth=1.2
).configure_axis(
    gridColor="#9a9a9a", gridDash=[3, 2], gridWidth=0.8
)

chart.save("out.html", embed_options={"renderer": "svg", "actions": False})
